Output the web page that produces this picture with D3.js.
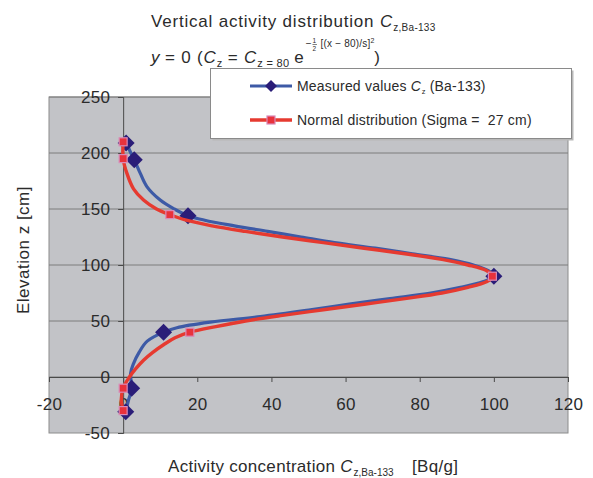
<!DOCTYPE html>
<html>
<head>
<meta charset="utf-8">
<script src="https://cdn.jsdelivr.net/npm/d3@7"></script>
<style>
  body { margin: 0; background: #fff; }
  svg text { font-family: "Liberation Sans", Arial, sans-serif; fill: #2b2b2b; white-space: pre; }
</style>
</head>
<body>
<svg id="chart" width="593" height="478"></svg>
<script>
const measuredZ = [209, 202, 194, 182, 170, 158, 150, 144, 140, 135, 130, 125, 120, 115, 110, 105, 100, 95, 90,
  85, 80, 75, 70, 65, 60, 54, 49, 44, 40, 32, 22, 12, 3, -10, -20, -31];
const measuredC = [1, 1.8, 3, 4.6, 6.4, 10, 13.8, 17.5, 22, 30, 39, 48, 57, 68, 78, 88, 94.5, 98.5, 100,
  97, 91, 83, 72, 61, 50.5, 37, 23.5, 14.5, 10.9, 6.5, 4.3, 2.8, 2.0, 2.3, 1.5, 0.7];
// diamond markers
const measuredMarkZ = [209, 194, 144, 90, 40, -10, -31];
const measuredMarkC = [0.8, 3, 17.5, 100, 10.9, 2.3, 0.7];

// Normal distribution (Sigma = 27 cm)
const normalZ = [210, 195, 182, 168, 158, 150, 145, 140, 135, 130, 125, 120, 115, 110, 105, 100, 95, 90,
  85, 80, 75, 70, 65, 60, 55, 50, 45, 40, 35, 29, 22, 15, 7, 0, -10, -20, -30];
const normalC = [0, 0, 1, 2.8, 5.5, 9, 12.6, 17, 24, 33, 43, 54, 65, 76, 86, 93, 98, 100,
  98, 93, 86, 76, 65, 54, 43, 33, 25, 18, 14, 11, 8, 5.5, 3.3, 1.7, 0, -0.5, 0];
const normalMarkZ = [210, 195, 145, 90, 40, -10, -30];
const normalMarkC = [0, 0, 12.6, 99.6, 18, 0, 0];

const xTicks = [-20, 0, 20, 40, 60, 80, 100, 120];
const yTicks = [-50, 0, 50, 100, 150, 200, 250];

const svg = d3.select("#chart");

const x = d3.scaleLinear().domain([-20, 120]).range([49, 568]);
const y = d3.scaleLinear().domain([-50, 250]).range([433, 97]);

// plot area
svg.append("rect")
  .attr("x", x(-20)).attr("y", y(250))
  .attr("width", x(120) - x(-20)).attr("height", y(-50) - y(250))
  .attr("fill", "#c2c3c7")
  .attr("stroke", "#8c8c8c").attr("stroke-width", 1);

// horizontal gridlines
svg.append("g").selectAll("line")
  .data(yTicks.filter(d => d > -50))
  .enter().append("line")
  .attr("x1", x(-20)).attr("x2", x(120))
  .attr("y1", d => y(d)).attr("y2", d => y(d))
  .attr("stroke", "#7d7d7d").attr("stroke-width", 1);

// axes crossing at 0
const xAxis = svg.append("g")
  .attr("transform", "translate(0," + y(0) + ")")
  .call(d3.axisBottom(x).tickValues(xTicks).tickSize(5).tickPadding(16).tickFormat(d => String(d)));
const yAxis = svg.append("g")
  .attr("transform", "translate(" + x(0) + ",0)")
  .call(d3.axisLeft(y).tickValues(yTicks).tickSize(5).tickPadding(8).tickFormat(d => String(d)));
[xAxis, yAxis].forEach(function (a) {
  a.selectAll("path, line").attr("stroke", "#4a4a4a");
  a.selectAll("text").style("font-size", "17px").style("letter-spacing", "0.3px").attr("fill", "#2b2b2b")
    .style("font-family", '"Liberation Sans", Arial, sans-serif');
});

const line = d3.line()
  .x(d => x(d[0]))
  .y(d => y(d[1]))
  .curve(d3.curveCatmullRom.alpha(0.5));

// rotated-square marker
function diamondPath(h) {
  return "M0," + (-h) + "L" + h + ",0L0," + h + "L" + (-h) + ",0Z";
}

// measured series
svg.append("path")
  .datum(measuredZ.map((z, i) => [measuredC[i], z]))
  .attr("fill", "none").attr("stroke", "#3d5aa6").attr("stroke-width", 3.2)
  .attr("stroke-linejoin", "round").attr("d", line);

svg.append("g").selectAll("path")
  .data(measuredMarkZ.map((z, i) => [measuredMarkC[i], z]))
  .enter().append("path")
  .attr("transform", d => "translate(" + x(d[0]) + "," + y(d[1]) + ")")
  .attr("d", diamondPath(8.5))
  .attr("fill", "#2a1d78");

// normal distribution series
svg.append("path")
  .datum(normalZ.map((z, i) => [normalC[i], z]))
  .attr("fill", "none").attr("stroke", "#e63a30").attr("stroke-width", 3.4)
  .attr("stroke-linejoin", "round").attr("d", line);

svg.append("g").selectAll("rect")
  .data(normalMarkZ.map((z, i) => [normalMarkC[i], z]))
  .enter().append("rect")
  .attr("x", d => x(d[0]) - 4).attr("y", d => y(d[1]) - 4)
  .attr("width", 8).attr("height", 8)
  .attr("fill", "#e8323c").attr("stroke", "#d98ab8").attr("stroke-width", 1.2);

// helper: write a run of text pieces left to right
function run(g, x0, pieces) {
  let cx = x0;
  pieces.forEach(function (p) {
    const t = g.append("text")
      .attr("x", p.x !== undefined ? p.x : cx)
      .attr("y", p.y)
      .style("font-size", p.size + "px")
      .style("letter-spacing", (p.ls || 0) + "px")
      .style("font-style", p.it ? "italic" : "normal")
      .text(p.s);
    if (p.x !== undefined) cx = p.x;
    cx += t.node().getComputedTextLength() + (p.gap || 0);
  });
  return cx;
}

// title
run(svg, 151, [
  { s: "Vertical activity distribution ", y: 27, size: 17, ls: 0.8 },
  { s: "C", y: 27, size: 17, it: true, gap: 1 },
  { s: "z,Ba-133", y: 31, size: 10, ls: 0.3 }
]);

let cx = run(svg, 151, [
  { s: "y", y: 63, size: 17, it: true },
  { s: " = 0 (", y: 63, size: 17, ls: 0.8 },
  { s: "C", y: 63, size: 17, it: true, gap: 1 },
  { s: "z", y: 67, size: 11 },
  { s: " = ", y: 63, size: 17, ls: 0.8 },
  { s: "C", y: 63, size: 17, it: true, gap: 1 },
  { s: "z = 80", y: 67, size: 11, ls: 0.3 },
  { s: " e", y: 63, size: 17, gap: 2 },
  { s: "−", y: 47, size: 10, gap: 1 }
]);
// stacked 1/2
svg.append("text").attr("x", cx).attr("y", 43).style("font-size", "6.5px").text("1");
svg.append("text").attr("x", cx).attr("y", 50.5).style("font-size", "6.5px").text("2");
svg.append("line").attr("x1", cx).attr("x2", cx + 4.5).attr("y1", 44.5).attr("y2", 44.5)
  .attr("stroke", "#2b2b2b").attr("stroke-width", 0.6);
run(svg, cx + 5, [
  { s: " [(x − 80)/s]", y: 47, size: 10, ls: 0.2 },
  { s: "2", y: 43, size: 7 },
  { s: ")", y: 63, size: 17 }
]);

// axis titles
run(svg, 168, [
  { s: "Activity concentration ", y: 472, size: 17, ls: 0.3 },
  { s: "C", y: 472, size: 17, it: true, gap: 1 },
  { s: "z,Ba-133", y: 476, size: 10 },
  { s: "[Bq/g]", x: 412, y: 472, size: 17, ls: 0.3 }
]);

svg.append("text")
  .attr("transform", "translate(29,250) rotate(-90)")
  .attr("text-anchor", "middle")
  .style("font-size", "17px")
  .style("letter-spacing", "0.5px")
  .text("Elevation z [cm]");

// legend
const lg = svg.append("g");
lg.append("rect").attr("x", 212.5).attr("y", 70.5).attr("width", 361).attr("height", 70).attr("fill", "#b8b8b8");
lg.append("rect").attr("x", 210.5).attr("y", 68.5).attr("width", 361).attr("height", 70)
  .attr("fill", "#fff").attr("stroke", "#8a8a8a").attr("stroke-width", 1);

lg.append("line").attr("x1", 250).attr("x2", 292).attr("y1", 86).attr("y2", 86)
  .attr("stroke", "#3d5aa6").attr("stroke-width", 3.2);
lg.append("path").attr("transform", "translate(271,86)").attr("d", diamondPath(6)).attr("fill", "#2a1d78");
run(lg, 297, [
  { s: "Measured values ", y: 91, size: 14, ls: 0.2 },
  { s: "C", y: 91, size: 14, it: true, gap: 1 },
  { s: "z", y: 94, size: 7.5 },
  { s: " (Ba-133)", y: 91, size: 14, ls: 0.2 }
]);

lg.append("line").attr("x1", 250).attr("x2", 292).attr("y1", 120).attr("y2", 120)
  .attr("stroke", "#e63a30").attr("stroke-width", 3.4);
lg.append("rect").attr("x", 267).attr("y", 116).attr("width", 8).attr("height", 8)
  .attr("fill", "#e8323c").attr("stroke", "#d98ab8").attr("stroke-width", 1.2);
run(lg, 297, [
  { s: "Normal distribution (Sigma =  27 cm)", y: 125, size: 14, ls: 0.2 }
]);
</script>
</body>
</html>
